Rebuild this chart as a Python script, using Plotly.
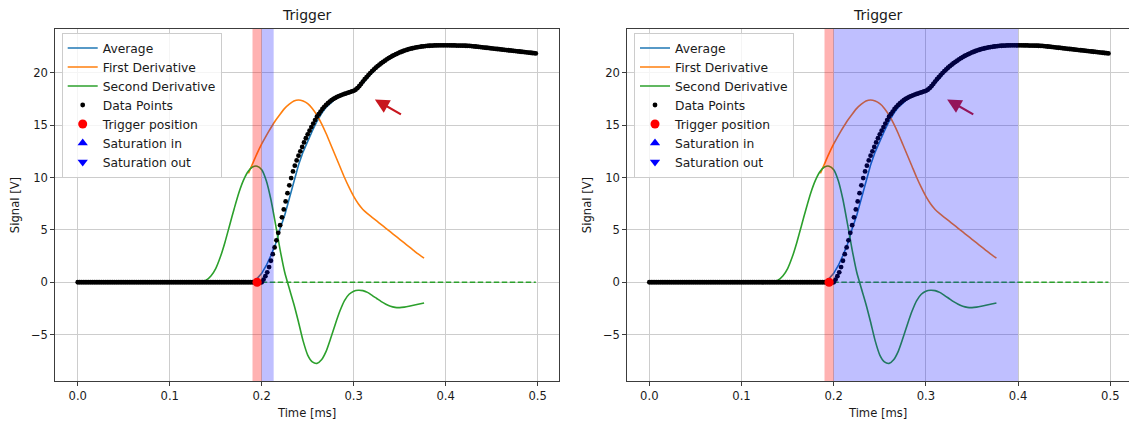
import plotly.graph_objects as go

# ---------------------------------------------------------------- data
# sampled signal (time in ms, signal in V)
TIME_MS = [
    0.000, 0.002, 0.004, 0.006, 0.008, 0.010, 0.012, 0.014, 0.016, 0.018,
    0.020, 0.022, 0.024, 0.026, 0.028, 0.030, 0.032, 0.034, 0.036, 0.038,
    0.040, 0.042, 0.044, 0.046, 0.048, 0.050, 0.052, 0.054, 0.056, 0.058,
    0.060, 0.062, 0.064, 0.066, 0.068, 0.070, 0.072, 0.074, 0.076, 0.078,
    0.080, 0.082, 0.084, 0.086, 0.088, 0.090, 0.092, 0.094, 0.096, 0.098,
    0.100, 0.102, 0.104, 0.106, 0.108, 0.110, 0.112, 0.114, 0.116, 0.118,
    0.120, 0.122, 0.124, 0.126, 0.128, 0.130, 0.132, 0.134, 0.136, 0.138,
    0.140, 0.142, 0.144, 0.146, 0.148, 0.150, 0.152, 0.154, 0.156, 0.158,
    0.160, 0.162, 0.164, 0.166, 0.168, 0.170, 0.172, 0.174, 0.176, 0.178,
    0.180, 0.182, 0.184, 0.186, 0.188, 0.190, 0.192, 0.194, 0.196, 0.198,
    0.200, 0.202, 0.204, 0.206, 0.208, 0.210, 0.212, 0.214, 0.216, 0.218,
    0.220, 0.222, 0.224, 0.226, 0.228, 0.230, 0.232, 0.234, 0.236, 0.238,
    0.240, 0.242, 0.244, 0.246, 0.248, 0.250, 0.252, 0.254, 0.256, 0.258,
    0.260, 0.262, 0.264, 0.266, 0.268, 0.270, 0.272, 0.274, 0.276, 0.278,
    0.280, 0.282, 0.284, 0.286, 0.288, 0.290, 0.292, 0.294, 0.296, 0.298,
    0.300, 0.302, 0.304, 0.306, 0.308, 0.310, 0.312, 0.314, 0.316, 0.318,
    0.320, 0.322, 0.324, 0.326, 0.328, 0.330, 0.332, 0.334, 0.336, 0.338,
    0.340, 0.342, 0.344, 0.346, 0.348, 0.350, 0.352, 0.354, 0.356, 0.358,
    0.360, 0.362, 0.364, 0.366, 0.368, 0.370, 0.372, 0.374, 0.376, 0.378,
    0.380, 0.382, 0.384, 0.386, 0.388, 0.390, 0.392, 0.394, 0.396, 0.398,
    0.400, 0.402, 0.404, 0.406, 0.408, 0.410, 0.412, 0.414, 0.416, 0.418,
    0.420, 0.422, 0.424, 0.426, 0.428, 0.430, 0.432, 0.434, 0.436, 0.438,
    0.440, 0.442, 0.444, 0.446, 0.448, 0.450, 0.452, 0.454, 0.456, 0.458,
    0.460, 0.462, 0.464, 0.466, 0.468, 0.470, 0.472, 0.474, 0.476, 0.478,
    0.480, 0.482, 0.484, 0.486, 0.488, 0.490, 0.492, 0.494, 0.496, 0.498,
]
SIGNAL_V = [
    0.0, 0.0, 0.0, 0.0, 0.0, 0.0, 0.0, 0.0, 0.0, 0.0,
    0.0, 0.0, 0.0, 0.0, 0.0, 0.0, 0.0, 0.0, 0.0, 0.0,
    0.0, 0.0, 0.0, 0.0, 0.0, 0.0, 0.0, 0.0, 0.0, 0.0,
    0.0, 0.0, 0.0, 0.0, 0.0, 0.0, 0.0, 0.0, 0.0, 0.0,
    0.0, 0.0, 0.0, 0.0, 0.0, 0.0, 0.0, 0.0, 0.0, 0.0,
    0.0, 0.0, 0.0, 0.0, 0.0, 0.0, 0.0, 0.0, 0.0, 0.0,
    0.0, 0.0, 0.0, 0.0, 0.0, 0.0, 0.0, 0.0, 0.0, 0.0,
    0.0, 0.0, 0.0, 0.0, 0.0, 0.0, 0.0, 0.0, 0.0, 0.0,
    0.0, 0.0, 0.0, 0.0, 0.0, 0.0, 0.0, 0.0, 0.0, 0.0,
    0.0, 0.0, 0.0, 0.0, 0.0, 0.0, 0.0, 0.0, 0.0, 0.0,
    0.00, 0.25, 0.58, 0.95, 1.45, 2.05, 2.68, 3.32, 4.00, 4.72,
    5.45, 6.20, 6.95, 7.72, 8.50, 9.25, 9.95, 10.58, 11.13, 11.63,
    12.08, 12.50, 12.92, 13.35, 13.75, 14.12, 14.47, 14.82, 15.15, 15.48,
    15.80, 16.05, 16.30, 16.55, 16.75, 16.93, 17.10, 17.25, 17.38, 17.50,
    17.60, 17.70, 17.78, 17.85, 17.92, 17.98, 18.04, 18.10, 18.16, 18.22,
    18.28, 18.38, 18.53, 18.72, 18.94, 19.16, 19.38, 19.58, 19.78, 19.97,
    20.15, 20.32, 20.48, 20.63, 20.77, 20.91, 21.04, 21.16, 21.28, 21.39,
    21.50, 21.60, 21.69, 21.78, 21.86, 21.94, 22.01, 22.08, 22.14, 22.20,
    22.25, 22.30, 22.34, 22.38, 22.42, 22.45, 22.48, 22.51, 22.53, 22.55,
    22.57, 22.58, 22.59, 22.60, 22.61, 22.61, 22.62, 22.62, 22.62, 22.62,
    22.62, 22.62, 22.62, 22.61, 22.61, 22.61, 22.60, 22.60, 22.60, 22.59,
    22.59, 22.58, 22.57, 22.56, 22.55, 22.53, 22.51, 22.49, 22.47, 22.45,
    22.43, 22.41, 22.39, 22.37, 22.35, 22.33, 22.31, 22.29, 22.27, 22.25,
    22.23, 22.21, 22.19, 22.17, 22.15, 22.13, 22.11, 22.09, 22.07, 22.05,
    22.03, 22.01, 21.99, 21.97, 21.95, 21.93, 21.91, 21.89, 21.87, 21.85,
]

# moving average of the signal
AVG_T = [0.000, 0.100, 0.180, 0.185, 0.190, 0.195, 0.200, 0.205, 0.210, 0.215,
         0.220, 0.225, 0.230, 0.235, 0.240, 0.245, 0.250, 0.255, 0.260, 0.265,
         0.270, 0.275, 0.280, 0.285, 0.290, 0.295, 0.300, 0.305, 0.310, 0.315,
         0.320, 0.325, 0.330, 0.340, 0.350, 0.360, 0.370, 0.380, 0.390, 0.400,
         0.420, 0.440, 0.460, 0.480, 0.498]
AVG_V = [0.0, 0.0, 0.0, 0.0, 0.1, 0.35, 0.85, 1.6, 2.55, 3.65,
         5.1, 6.4, 8.0, 9.7, 11.2, 12.45, 13.5, 14.45, 15.35, 16.1,
         16.7, 17.15, 17.5, 17.75, 17.93, 18.08, 18.22, 18.5, 19.05, 19.5,
         20.0, 20.45, 20.85, 21.45, 21.9, 22.2, 22.42, 22.55, 22.6, 22.6,
         22.57, 22.42, 22.22, 22.02, 21.85]

# first derivative (scaled)
D1_T = [0.1855, 0.190, 0.195, 0.200, 0.205, 0.210, 0.215, 0.220, 0.225, 0.230,
        0.235, 0.240, 0.245, 0.250, 0.255, 0.260, 0.265, 0.270, 0.275, 0.280,
        0.285, 0.290, 0.295, 0.300, 0.305, 0.310, 0.315, 0.320, 0.325, 0.330,
        0.335, 0.340, 0.345, 0.350, 0.355, 0.360, 0.365, 0.370, 0.3765]
D1_V = [10.4, 11.3, 12.3, 13.2, 14.0, 14.75, 15.45, 16.05, 16.6, 17.0,
        17.3, 17.4, 17.3, 17.05, 16.6, 15.95, 15.15, 14.2, 13.15, 12.1,
        11.05, 10.0, 9.05, 8.2, 7.5, 6.95, 6.55, 6.2, 5.85, 5.5,
        5.15, 4.8, 4.45, 4.1, 3.75, 3.4, 3.05, 2.7, 2.3]

# second derivative (scaled)
D2_T = [0.000, 0.125, 0.130, 0.135, 0.140, 0.145, 0.150, 0.155, 0.160, 0.165,
        0.170, 0.175, 0.180, 0.185, 0.190, 0.195, 0.200, 0.205, 0.210, 0.215,
        0.220, 0.225, 0.230, 0.235, 0.240, 0.245, 0.250, 0.255, 0.260, 0.265,
        0.270, 0.275, 0.280, 0.285, 0.290, 0.295, 0.300, 0.305, 0.310, 0.315,
        0.320, 0.325, 0.330, 0.335, 0.340, 0.345, 0.350, 0.355, 0.360, 0.365,
        0.370, 0.3765]
D2_V = [0.0, 0.0, 0.0, 0.04, 0.22, 0.62, 1.3, 2.4, 3.8, 5.4,
        7.0, 8.5, 9.7, 10.55, 11.0, 11.08, 10.75, 9.7, 7.9, 5.55,
        3.1, 0.95, -0.6, -2.1, -3.8, -5.6, -6.95, -7.6, -7.75, -7.4,
        -6.6, -5.35, -4.0, -2.75, -1.75, -1.15, -0.85, -0.76, -0.8, -0.97,
        -1.25, -1.55, -1.85, -2.1, -2.3, -2.4, -2.42, -2.38, -2.3, -2.2,
        -2.1, -1.98]

# zero reference of the second derivative
ZERO_T = [0.0, 0.498]
ZERO_V = [0.0, 0.0]

# detected trigger point
TRIGGER_T = [0.195]
TRIGGER_V = [0.0]

# saturation markers (none detected)
SAT_IN_T, SAT_IN_V = [None], [None]
SAT_OUT_T, SAT_OUT_V = [None], [None]

# highlighted windows [start, end] in ms, per panel
TRIGGER_WINDOWS = [(0.190, 0.200), (0.190, 0.200)]
SATURATION_WINDOWS = [(0.200, 0.213), (0.200, 0.400)]

# annotation arrow: tip and tail (ms, V)
ARROW_TIP = (0.323, 17.45)
ARROW_TAIL = (0.353, 15.95)

X_TICKS = [0.0, 0.1, 0.2, 0.3, 0.4, 0.5]
X_TICK_LABELS = ["0.0", "0.1", "0.2", "0.3", "0.4", "0.5"]
Y_TICKS = [-5, 0, 5, 10, 15, 20]
Y_TICK_LABELS = ["\u22125", "0", "5", "10", "15", "20"]

# ---------------------------------------------------------------- style
W, H = 1129, 423
FONT = "DejaVu Sans"
TXT = "#1a1a1a"
C_AVG, C_D1, C_D2 = "#1f77b4", "#ff7f0e", "#2ca02c"
GRID = "#cdcdcd"
SPINE = "#3c3c3c"

M_T, M_B = 29, 42
PLOT_H = H - M_T - M_B
X_DOMAINS = [[55.3 / W, 559.0 / W], [627.3 / W, 1.0]]
X_RANGES = [[-0.0244, 0.5232], [-0.0239, 0.5203]]
Y_RANGE = [-9.43, 24.18]
LEGEND_X = [61.7 / W, 634.0 / W]
ARROW_COLORS = ["#c8161e", "#93145a"]

fig = go.Figure()

for i in range(2):
    xa = "x" if i == 0 else "x2"
    ya = "y" if i == 0 else "y2"
    lg = "legend" if i == 0 else "legend2"
    common = dict(xaxis=xa, yaxis=ya, legend=lg)

    fig.add_trace(go.Scatter(x=AVG_T, y=AVG_V, mode="lines", name="Average",
                             line=dict(color=C_AVG, width=1.6), **common))
    fig.add_trace(go.Scatter(x=D1_T, y=D1_V, mode="lines", name="First Derivative",
                             line=dict(color=C_D1, width=1.6, shape="spline", smoothing=0.6),
                             **common))
    fig.add_trace(go.Scatter(x=D2_T, y=D2_V, mode="lines", name="Second Derivative",
                             line=dict(color=C_D2, width=1.6, shape="spline", smoothing=0.6),
                             **common))
    fig.add_trace(go.Scatter(x=ZERO_T, y=ZERO_V, mode="lines", showlegend=False,
                             line=dict(color=C_D2, width=1.5, dash="5.5px,2.5px"),
                             hoverinfo="skip", **common))
    fig.add_trace(go.Scatter(x=TIME_MS, y=SIGNAL_V, mode="markers", name="Data Points",
                             marker=dict(color="black", size=4.8, line=dict(width=0)),
                             **common))
    fig.add_trace(go.Scatter(x=TRIGGER_T, y=TRIGGER_V, mode="markers",
                             name="Trigger position",
                             marker=dict(color="red", size=9, line=dict(width=0)),
                             **common))
    fig.add_trace(go.Scatter(x=SAT_IN_T, y=SAT_IN_V, mode="markers", name="Saturation in",
                             marker=dict(color="blue", size=9, symbol="triangle-up",
                                         line=dict(width=0)), **common))
    fig.add_trace(go.Scatter(x=SAT_OUT_T, y=SAT_OUT_V, mode="markers", name="Saturation out",
                             marker=dict(color="blue", size=9, symbol="triangle-down",
                                         line=dict(width=0)), **common))

    t0, t1 = TRIGGER_WINDOWS[i]
    fig.add_shape(type="rect", xref=xa, yref=f"{ya} domain", x0=t0, x1=t1, y0=0, y1=1,
                  fillcolor="rgba(255,0,0,0.3)", line=dict(width=0), layer="above")
    s0, s1 = SATURATION_WINDOWS[i]
    fig.add_shape(type="rect", xref=xa, yref=f"{ya} domain", x0=s0, x1=s1, y0=0, y1=1,
                  fillcolor="rgba(0,0,255,0.25)", line=dict(width=0), layer="above")

    fig.add_annotation(x=ARROW_TIP[0], y=ARROW_TIP[1], ax=ARROW_TAIL[0], ay=ARROW_TAIL[1],
                       xref=xa, yref=ya, axref=xa, ayref=ya, text="", showarrow=True,
                       arrowhead=2, arrowsize=1.3, arrowwidth=2.2, standoff=0,
                       arrowcolor=ARROW_COLORS[i])

    xc = (X_DOMAINS[i][0] + X_DOMAINS[i][1]) / 2
    fig.add_annotation(x=xc, y=1, xref="paper", yref="paper", text="Trigger",
                       showarrow=False, xanchor="center", yanchor="middle", yshift=14,
                       font=dict(family=FONT, size=14, color=TXT))

axis_common = dict(showgrid=True, gridcolor=GRID, gridwidth=1, zeroline=False,
                   showline=True, linecolor=SPINE, linewidth=1,
                   ticks="outside", ticklen=4, tickcolor=SPINE, tickwidth=1,
                   tickfont=dict(family=FONT, size=11.6, color=TXT))

layout = dict(
    width=W, height=H,
    margin=dict(l=0, r=0, t=M_T, b=M_B),
    paper_bgcolor="white", plot_bgcolor="white",
    font=dict(family=FONT, size=11.6, color=TXT),
)
for i in range(2):
    sx = "" if i == 0 else "2"
    layout[f"xaxis{sx}"] = dict(
        domain=X_DOMAINS[i], range=X_RANGES[i], anchor=f"y{sx}",
        tickvals=X_TICKS, ticktext=X_TICK_LABELS, mirror=True,
        title=dict(text="Time [ms]", font=dict(family=FONT, size=11.6, color=TXT), standoff=6),
        **axis_common)
    layout[f"yaxis{sx}"] = dict(
        domain=[0, 1], range=Y_RANGE, anchor=f"x{sx}",
        tickvals=Y_TICKS, ticktext=Y_TICK_LABELS, mirror=(i == 0),
        title=dict(text="Signal [V]", font=dict(family=FONT, size=11.6, color=TXT), standoff=8),
        **axis_common)
    key = "legend" if i == 0 else "legend2"
    layout[key] = dict(
        x=LEGEND_X[i], y=1 - 3.5 / PLOT_H, xanchor="left", yanchor="top",
        bgcolor="rgba(255,255,255,0.8)", bordercolor="#cccccc", borderwidth=1,
        font=dict(family=FONT, size=12.3, color=TXT), itemwidth=30, tracegroupgap=0,
    )

fig.update_layout(**layout)
fig.write_html("out.html")
